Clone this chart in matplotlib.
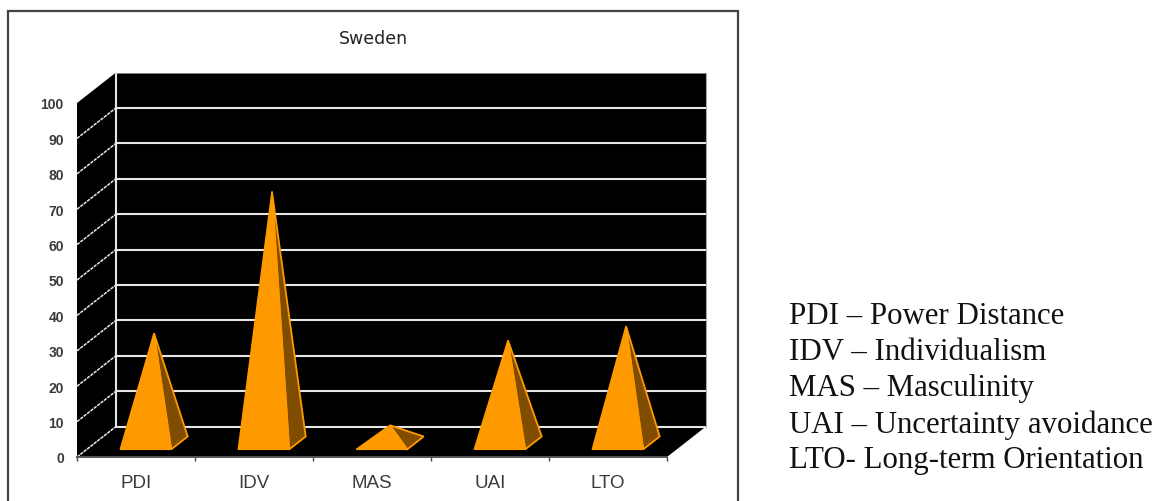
import matplotlib
matplotlib.use("Agg")
import matplotlib.pyplot as plt
from matplotlib.patches import Polygon, Rectangle

W, H = 1159, 502

title = "Sweden"
categories = ["PDI", "IDV", "MAS", "UAI", "LTO"]
values = [31, 71, 5, 29, 33]
y_ticks = list(range(0, 101, 10))
glossary = [
    "PDI – Power Distance",
    "IDV – Individualism",
    "MAS – Masculinity",
    "UAI – Uncertainty avoidance",
    "LTO- Long-term Orientation",
]

ORANGE = "#FF9900"
SHADE = "#804D00"
GRID = "#E6E6E6"
INK = "#3A3A3A"

# Oblique depth of the 3D box, in axis units per unit of depth
DEPTH_X = 39 / 118
DEPTH_Y = 30.5 / 3.54
BAR_WIDTH = 0.432
BAR_NEAR = 0.25
BAR_FAR = 0.672


def oblique(x, y, depth=0.0):
    return (x + depth * DEPTH_X, y + depth * DEPTH_Y)


fig = plt.figure(figsize=(W / 100, H / 100), dpi=100, facecolor="white")
ax = fig.add_axes([77 / W, 1 - 458 / H, 590 / W, 354 / H])
ax.set_xlim(0, len(categories))
ax.set_ylim(0, 100)
ax.patch.set_visible(False)
for side in ("top", "right", "left"):
    ax.spines[side].set_visible(False)
ax.spines["bottom"].set_color("#555555")
ax.spines["bottom"].set_linewidth(1.4)

# Outer frame, running off the lower edge of the figure
fig.add_artist(Rectangle((7.5 / W, -0.02), 730 / W, 1.02 - 11.5 / H,
                         transform=fig.transFigure, fill=False,
                         edgecolor="#444444", linewidth=1.6))

n = len(categories)
# Back wall, side wall and floor
walls = [
    [oblique(0, 0, 1), oblique(n, 0, 1), oblique(n, 100, 1), oblique(0, 100, 1)],
    [oblique(0, 0), oblique(0, 0, 1), oblique(0, 100, 1), oblique(0, 100)],
    [oblique(0, 0), oblique(n, 0), oblique(n, 0, 1), oblique(0, 0, 1)],
]
for wall in walls:
    ax.add_patch(Polygon(wall, closed=True, facecolor="black", edgecolor="none",
                         clip_on=False, zorder=1))

# Gridlines: finely dotted across the side wall, solid along the back wall
for v in y_ticks:
    if v < 100:
        ax.plot(*zip(oblique(0, v), oblique(0, v, 1)), color=GRID, lw=1.1,
                ls=(0, (2.2, 0.6)), clip_on=False, zorder=2)
        ax.plot(*zip(oblique(0, v, 1), oblique(n, v, 1)), color=GRID, lw=1.5,
                clip_on=False, zorder=2)
ax.plot(*zip(oblique(0, 100, 1), oblique(n, 100, 1)), color="#999999", lw=0.6,
        clip_on=False, zorder=2)
ax.plot(*zip(oblique(0, 0, 1), oblique(0, 100, 1)), color=GRID, lw=1.5,
        clip_on=False, zorder=2)
ax.plot(*zip(oblique(n, 0, 1), oblique(n, 100, 1)), color="#AAAAAA", lw=0.8,
        clip_on=False, zorder=2)

# Pyramids: a lit front face and a shaded right face meeting at the apex
for i, v in enumerate(values):
    left = i + 0.5 - BAR_WIDTH / 2
    right = i + 0.5 + BAR_WIDTH / 2
    mid_depth = (BAR_NEAR + BAR_FAR) / 2
    apex = oblique(i + 0.5, v, mid_depth)
    near_left = oblique(left, 0, BAR_NEAR)
    near_right = oblique(right, 0, BAR_NEAR)
    far_right = oblique(right, 0, BAR_FAR)
    ax.add_patch(Polygon([near_right, far_right, apex], closed=True,
                         facecolor=SHADE, edgecolor=ORANGE, linewidth=1.3,
                         clip_on=False, zorder=3))
    ax.add_patch(Polygon([near_left, near_right, apex], closed=True,
                         facecolor=ORANGE, edgecolor=ORANGE, linewidth=1.0,
                         clip_on=False, zorder=4))

# Axis ticks and labels
ax.set_xticks(range(n + 1))
ax.set_xticklabels([])
ax.set_xticks([i + 0.5 for i in range(n)], minor=True)
ax.set_xticklabels(categories, minor=True, fontsize=13.5, color=INK,
                   family=["Liberation Sans", "DejaVu Sans"])
ax.tick_params(axis="x", which="major", length=3, width=1, color="#444444")
ax.tick_params(axis="x", which="minor", length=0, pad=12)
ax.set_yticks(y_ticks)
ax.set_yticklabels([str(v) for v in y_ticks], fontsize=10, fontweight="bold",
                   color=INK, family=["Liberation Sans Narrow", "Liberation Sans"])
ax.tick_params(axis="y", length=0, pad=9.5)

fig.text(373 / W, 1 - 39 / H, title, ha="center", va="center", fontsize=12.5,
         color="#222222", family=["DejaVu Sans"])

# Glossary of the abbreviations
for k, line in enumerate(glossary):
    fig.text(789 / W, 1 - (317 + 36 * k) / H, line, ha="left", va="center",
             fontsize=22.2, color="#111111",
             family=["Liberation Serif", "DejaVu Serif"])

fig.savefig("out.png", dpi=100, facecolor="white")
